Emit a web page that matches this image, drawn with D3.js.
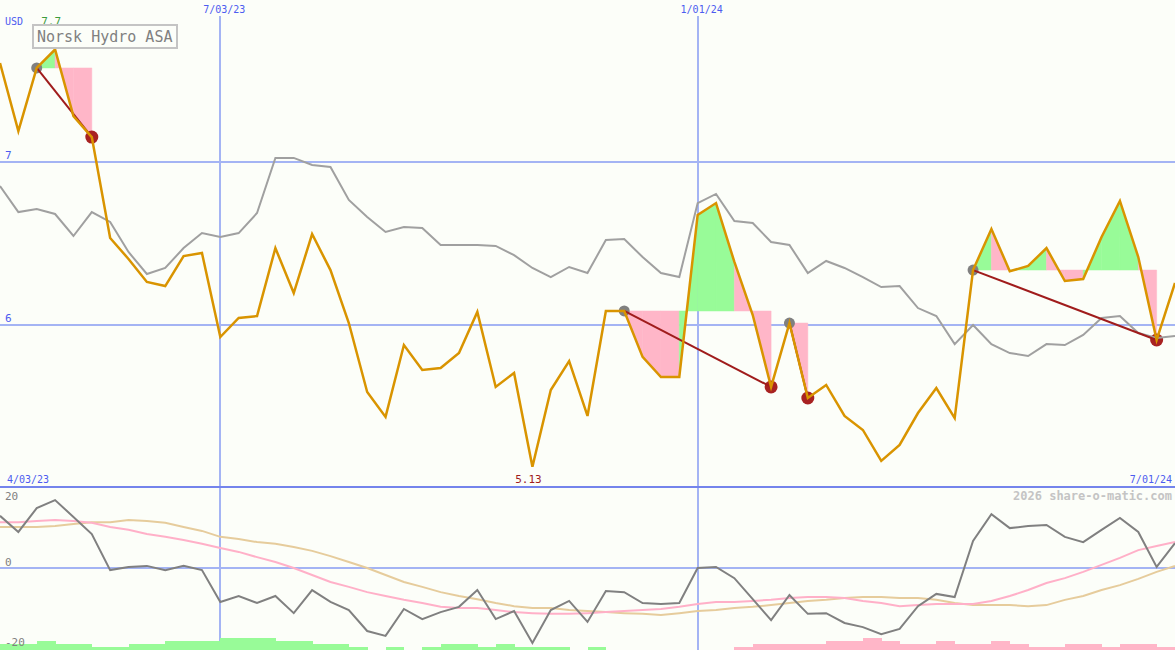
<!DOCTYPE html>
<html>
<head>
<meta charset="utf-8">
<script src="https://cdn.jsdelivr.net/npm/d3@7"></script>
<style>
  body { margin: 0; background: #fcfef9; }
  svg { display: block; }
  text { font-family: "DejaVu Sans Mono", monospace; }
</style>
</head>
<body>
<script>
// weekly closes, Norsk Hydro ASA (USD)
var price = [7.607, 7.19, 7.577, 7.69, 7.282, 7.153, 6.534, 6.405, 6.264, 6.239,
  6.423, 6.442, 5.926, 6.043, 6.055, 6.472, 6.196, 6.558, 6.337, 6.012,
  5.589, 5.436, 5.877, 5.724, 5.736, 5.828, 6.08, 5.62, 5.706, 5.13,
  5.601, 5.779, 5.442, 6.086, 6.086, 5.804, 5.681, 5.681, 6.675, 6.748,
  6.387, 6.061, 5.62, 6.012, 5.552, 5.632, 5.442, 5.356, 5.166, 5.264,
  5.46, 5.613, 5.429, 6.337, 6.589, 6.33, 6.362, 6.472, 6.27, 6.282,
  6.54, 6.761, 6.417, 5.908, 6.258];

// comparison line (grey), on the same scale
var compare = [6.853, 6.693, 6.712, 6.681, 6.546, 6.693, 6.632, 6.448, 6.313, 6.35,
  6.472, 6.564, 6.54, 6.564, 6.687, 7.025, 7.025, 6.982, 6.969, 6.767,
  6.663, 6.571, 6.601, 6.595, 6.491, 6.491, 6.491, 6.485, 6.429, 6.35,
  6.294, 6.356, 6.319, 6.521, 6.528, 6.417, 6.319, 6.294, 6.748, 6.804,
  6.638, 6.626, 6.509, 6.491, 6.319, 6.393, 6.35, 6.294, 6.233, 6.239,
  6.104, 6.055, 5.883, 6.0, 5.883, 5.828, 5.81, 5.883, 5.877, 5.939,
  6.043, 6.055, 5.951, 5.92, 5.933];

// lower panel: momentum and its two averages
var momentum = [14.9, 10.3, 17.1, 19.4, 14.6, 9.7, -0.6, 0.3, 0.6, -0.6,
  0.6, -0.6, -9.7, -8.0, -10.0, -8.0, -12.9, -6.3, -9.7, -12.0,
  -18.0, -19.4, -11.7, -14.6, -12.6, -11.1, -6.3, -14.6, -12.3, -21.4,
  -12.0, -9.4, -15.4, -6.6, -6.9, -10.0, -10.3, -10.0, 0, 0.3,
  -2.9, -8.9, -14.9, -7.7, -13.1, -12.9, -15.7, -16.9, -18.9, -17.4,
  -10.9, -7.4, -8.3, 7.7, 15.4, 11.4, 12.0, 12.3, 8.9, 7.4,
  10.9, 14.3, 10.3, 0.3, 7.1];

var avgFast = [13.1, 13.1, 13.4, 13.7, 13.4, 12.9, 11.7, 10.9, 9.7, 8.9,
  8.0, 6.9, 5.7, 4.6, 3.1, 1.7, 0, -2.0, -4.0, -5.4,
  -6.9, -8.0, -9.1, -10.0, -11.1, -11.4, -11.4, -12.0, -12.6, -12.9,
  -13.1, -13.1, -12.9, -12.6, -12.3, -12.0, -11.7, -11.1, -10.3, -9.7,
  -9.7, -9.4, -9.1, -8.6, -8.3, -8.3, -8.6, -9.4, -10.0, -10.9,
  -10.6, -10.3, -10.3, -10.3, -9.4, -8.0, -6.3, -4.3, -2.9, -1.1,
  0.9, 2.9, 5.1, 6.3, 7.4];

var avgSlow = [11.7, 11.7, 11.7, 12.0, 12.6, 13.1, 13.1, 13.7, 13.4, 12.9,
  11.7, 10.6, 8.9, 8.3, 7.4, 6.9, 6.0, 4.9, 3.4, 1.7,
  0, -2.0, -4.0, -5.4, -6.9, -8.0, -8.9, -10.0, -10.9, -11.4,
  -11.4, -12.0, -12.3, -12.6, -12.9, -13.1, -13.4, -12.9, -12.3, -12.0,
  -11.4, -11.1, -10.6, -10.0, -9.4, -9.1, -8.6, -8.3, -8.3, -8.6,
  -8.6, -9.1, -10.0, -10.6, -10.6, -10.6, -10.9, -10.6, -9.1, -8.0,
  -6.3, -4.9, -3.1, -1.1, 0.6];

// volume-ish bars at the foot (positive green, negative pink)
var bars = [2, 2, 3, 2, 2, 1, 1, 2, 2, 3, 3, 3, 4, 4, 4, 3, 3, 2, 2, 1,
  0, 1, 0, 1, 2, 2, 1, 2, 1, 1, 1, 0, 1, 0, 0, 0, 0, 0, 0, 0,
  -1, -2, -2, -2, -2, -3, -3, -4, -3, -2, -2, -3, -2, -2, -3, -2, -1, -1, -2, -2,
  -1, -2, -2, -1];

// patterns: start index -> end index
var patStart = [2, 34, 43, 53];
var patEnd = [5, 42, 44, 63];

var dateTicks = [12, 38];
var dateLabels = ["7/03/23", "1/01/24"];
var firstLabel = "4/03/23";
var lastLabel = "7/01/24";
var priceTicks = [6, 7];
var lowTicks = [20, 0, -20];

var W = 1175, H = 650;
var green = "#98fb98", pink = "#ffb6c8";
var gridBlue = "#a4b4f4", labelBlue = "#4c5cf0";

var svg = d3.select("body").append("svg")
  .attr("width", W)
  .attr("height", H);

svg.append("rect")
  .attr("width", W).attr("height", H)
  .attr("fill", "#fcfef9");

var x = d3.scaleLinear().domain([0, price.length - 1]).range([0, W]);
var y = d3.scaleLinear().domain([6, 7]).range([325, 162]);
var yLow = d3.scaleLinear().domain([-20, 20]).range([638, 498]);

// grid lines
svg.selectAll(".hgrid")
  .data(priceTicks)
  .enter().append("line")
  .attr("x1", 0).attr("x2", W)
  .attr("y1", function(d) { return y(d); })
  .attr("y2", function(d) { return y(d); })
  .attr("stroke", gridBlue).attr("stroke-width", 2);

svg.selectAll(".vgrid")
  .data(dateTicks)
  .enter().append("line")
  .attr("x1", function(d) { return Math.round(x(d)); })
  .attr("x2", function(d) { return Math.round(x(d)); })
  .attr("y1", 16).attr("y2", H)
  .attr("stroke", gridBlue).attr("stroke-width", 2);

svg.append("line")
  .attr("x1", 0).attr("x2", W)
  .attr("y1", yLow(0)).attr("y2", yLow(0))
  .attr("stroke", gridBlue).attr("stroke-width", 2);

// pattern fills: each week between start and end, against the start level
patStart.forEach(function(s, k) {
  var e = patEnd[k], level = price[s];
  for (var i = s; i < e; i++) {
    var pts = [[x(i), y(level)], [x(i), y(price[i])], [x(i + 1), y(price[i + 1])], [x(i + 1), y(level)]];
    svg.append("path")
      .attr("d", "M" + pts.join("L") + "Z")
      .attr("fill", price[i + 1] >= level ? green : pink)
      .attr("stroke", price[i + 1] >= level ? green : pink)
      .attr("stroke-width", 0.5);
  }
});

// start / end dots sit under the lines
svg.selectAll(".startDot")
  .data(patStart)
  .enter().append("circle")
  .attr("cx", function(d) { return x(d); })
  .attr("cy", function(d) { return y(price[d]); })
  .attr("r", 5.5)
  .attr("fill", "#808080");

svg.selectAll(".endDot")
  .data(patEnd)
  .enter().append("circle")
  .attr("cx", function(d) { return x(d); })
  .attr("cy", function(d) { return y(price[d]); })
  .attr("r", 6.5)
  .attr("fill", "#a82222");

var line = d3.line()
  .x(function(d, i) { return x(i); })
  .y(function(d) { return y(d); });

svg.append("path")
  .attr("d", line(compare))
  .attr("fill", "none")
  .attr("stroke", "#a0a0a0")
  .attr("stroke-width", 2);

// trend line from each start to end
svg.selectAll(".trend")
  .data(patStart)
  .enter().append("line")
  .attr("x1", function(d) { return x(d); })
  .attr("y1", function(d) { return y(price[d]); })
  .attr("x2", function(d, k) { return x(patEnd[k]); })
  .attr("y2", function(d, k) { return y(price[patEnd[k]]); })
  .attr("stroke", "#a01c1c")
  .attr("stroke-width", 2);

svg.append("path")
  .attr("d", line(price))
  .attr("fill", "none")
  .attr("stroke", "#d99400")
  .attr("stroke-width", 2.5);

// separator between panels
svg.append("line")
  .attr("x1", 0).attr("x2", W)
  .attr("y1", 487).attr("y2", 487)
  .attr("stroke", "#7484ec").attr("stroke-width", 2);

// lower panel lines
var lowLine = d3.line()
  .x(function(d, i) { return x(i); })
  .y(function(d) { return yLow(d); });

svg.append("path").attr("d", lowLine(avgSlow))
  .attr("fill", "none").attr("stroke", "#e6cc9c").attr("stroke-width", 2);
svg.append("path").attr("d", lowLine(avgFast))
  .attr("fill", "none").attr("stroke", "#ffb0c8").attr("stroke-width", 2);
svg.append("path").attr("d", lowLine(momentum))
  .attr("fill", "none").attr("stroke", "#808080").attr("stroke-width", 2);

svg.selectAll(".bar")
  .data(bars)
  .enter().append("rect")
  .attr("x", function(d, i) { return x(i); })
  .attr("width", x(1) - x(0) + 0.5)
  .attr("y", function(d) { return H - Math.abs(d) * 3; })
  .attr("height", function(d) { return Math.abs(d) * 3; })
  .attr("fill", function(d) { return d >= 0 ? green : pink; })
  .attr("shape-rendering", "crispEdges");

// texts
svg.selectAll(".ptick")
  .data(priceTicks)
  .enter().append("text")
  .attr("x", 5)
  .attr("y", function(d) { return y(d) - 3; })
  .attr("fill", labelBlue)
  .style("font-size", "11px")
  .text(function(d) { return d; });

svg.selectAll(".ltick")
  .data(lowTicks)
  .enter().append("text")
  .attr("x", 5)
  .attr("y", function(d) { return d > 0 ? yLow(d) + 2 : (d < 0 ? yLow(d) + 8 : yLow(d) - 2); })
  .attr("fill", "#808080")
  .style("font-size", "11px")
  .text(function(d) { return d; });

svg.selectAll(".dtick")
  .data(dateTicks)
  .enter().append("text")
  .attr("x", function(d) { return x(d) + 4; })
  .attr("y", 13)
  .attr("text-anchor", "middle")
  .attr("fill", labelBlue)
  .style("font-size", "10px")
  .text(function(d, i) { return dateLabels[i]; });

svg.append("text").attr("x", 7).attr("y", 483)
  .attr("fill", labelBlue).style("font-size", "10px").text(firstLabel);
svg.append("text").attr("x", 1172).attr("y", 483).attr("text-anchor", "end")
  .attr("fill", labelBlue).style("font-size", "10px").text(lastLabel);
svg.append("text").attr("x", 5).attr("y", 25)
  .attr("fill", labelBlue).style("font-size", "10px").text("USD");

var iMax = d3.maxIndex(price), iMin = d3.minIndex(price);
svg.append("text").attr("x", x(iMax) - 4).attr("y", 25).attr("text-anchor", "middle")
  .attr("fill", "#3c9c3c").style("font-size", "11px").text(d3.max(price).toFixed(1));
svg.append("text").attr("x", x(iMin) - 4).attr("y", 483).attr("text-anchor", "middle")
  .attr("fill", "#a01c1c").style("font-size", "11px").text(d3.min(price).toFixed(2));

// title box
svg.append("rect")
  .attr("x", 33).attr("y", 25).attr("width", 144).attr("height", 23)
  .attr("fill", "#fcfef9").attr("stroke", "#c4c4c4").attr("stroke-width", 2);
svg.append("text").attr("x", 37).attr("y", 42)
  .attr("fill", "#808080").style("font-size", "15px").text("Norsk Hydro ASA");

svg.append("text").attr("x", 1172).attr("y", 500).attr("text-anchor", "end")
  .attr("fill", "#c4c4c4").style("font-size", "12px").style("font-weight", "bold")
  .text("2026 share-o-matic.com");
</script>
</body>
</html>
